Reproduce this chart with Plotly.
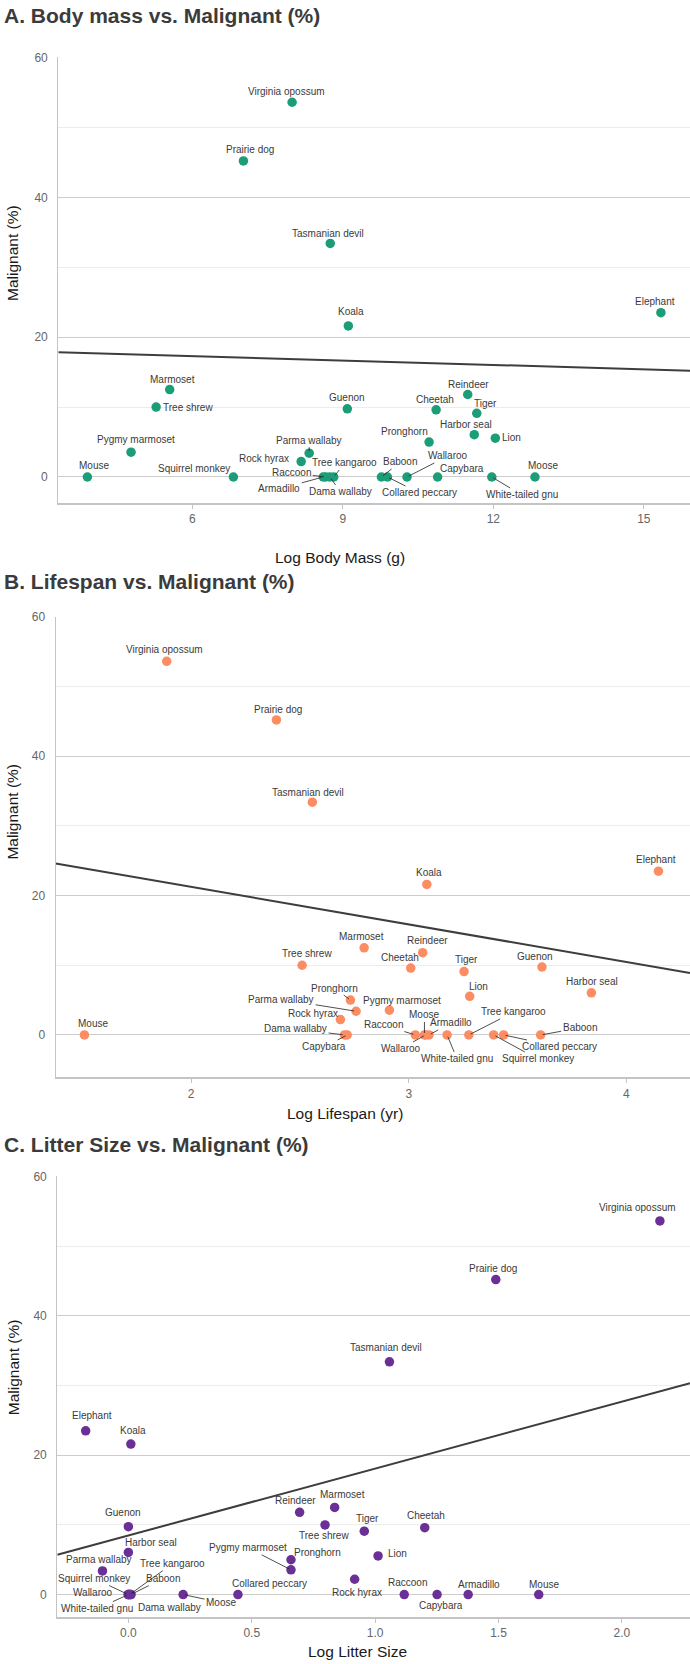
import plotly.graph_objects as go

# ---------------- data ----------------
species = ["Virginia opossum", "Prairie dog", "Tasmanian devil", "Koala", "Elephant",
           "Marmoset", "Reindeer", "Tree shrew", "Guenon", "Cheetah", "Tiger",
           "Harbor seal", "Lion", "Pronghorn", "Pygmy marmoset", "Parma wallaby",
           "Rock hyrax", "Mouse", "Squirrel monkey", "Raccoon", "Armadillo",
           "Dama wallaby", "Tree kangaroo", "Baboon", "Collared peccary", "Wallaroo",
           "Capybara", "White-tailed gnu", "Moose"]

malignant = [53.6, 45.2, 33.4, 21.6, 23.5,
             12.5, 11.8, 10.0, 9.75, 9.6, 9.1,
             6.05, 5.55, 5.0, 3.55, 3.4,
             2.2, 0, 0, 0, 0,
             0, 0, 0, 0, 0,
             0, 0, 0]

log_body_mass = [7.99, 7.02, 8.75, 9.11, 15.34,
                 5.55, 11.49, 5.28, 9.09, 10.86, 11.67,
                 11.62, 12.04, 10.72, 4.78, 8.33,
                 8.17, 3.91, 6.82, 8.66, 8.61,
                 8.74, 8.82, 9.77, 9.89, 10.28,
                 10.89, 11.97, 12.83]

log_lifespan = [1.888, 2.392, 2.557, 3.083, 4.147,
                2.795, 3.064, 2.510, 3.612, 3.009, 3.254,
                3.839, 3.280, 2.732, 2.911, 2.758,
                2.686, 1.510, 3.390, 3.030, 3.093,
                2.705, 3.276, 3.606, 3.436, 3.077,
                2.717, 3.176, 3.072]

log_litter = [2.154, 1.489, 1.058, 0.01, -0.173,
              0.836, 0.694, 0.797, 0.0, 1.201, 0.956,
              0.0, 1.012, 0.659, 0.659, -0.105,
              0.917, 1.663, 0.0, 1.118, 1.377,
              0.01, 0.005, 0.01, 0.444, 0.0,
              1.251, 0.0, 0.222]

# fitted lines: (intercept, slope)
fit_body_mass = (18.56, -0.211)
fit_lifespan = (32.03, -5.39)
fit_litter = (8.48, 9.6)

titles = ["A. Body mass vs. Malignant (%)", "B. Lifespan vs. Malignant (%)",
          "C. Litter Size vs. Malignant (%)"]
x_titles = ["Log Body Mass (g)", "Log Lifespan (yr)", "Log Litter Size"]
y_title = "Malignant (%)"
x_ticks = [[6, 9, 12, 15], [2, 3, 4], [0.0, 0.5, 1.0, 1.5, 2.0]]
x_ticktext = [["6", "9", "12", "15"], ["2", "3", "4"], ["0.0", "0.5", "1.0", "1.5", "2.0"]]
y_ticks = [0, 20, 40, 60]
y_minor = [10, 30, 50]

# ---------------- layout / style ----------------
W, H = 690, 1664
FONT = "Liberation Sans, Arial, Helvetica, sans-serif"
colors = ["#1b9e77", "#fc8d62", "#6a3096"]

# label placement (pixel offsets from point, leader line flag)
lab_A = {
    "Virginia opossum": (-6, -11, 0), "Prairie dog": (7, -11, 0), "Tasmanian devil": (-2, -10, 0),
    "Koala": (3, -14, 0), "Elephant": (-6, -11, 0), "Marmoset": (3, -10, 0),
    "Reindeer": (1, -10, 0), "Tree shrew": (32, 0, 0), "Guenon": (0, -11, 0),
    "Cheetah": (-1, -10, 0), "Tiger": (9, -10, 0), "Harbor seal": (-8, -10, 0),
    "Lion": (16, -1, 0), "Pronghorn": (-25, -11, 0), "Pygmy marmoset": (5, -13, 0),
    "Parma wallaby": (0, -13, 1), "Rock hyrax": (-37, -3, 0), "Mouse": (7, -11, 0),
    "Squirrel monkey": (-39, -8, 0), "Raccoon": (-34, -4, 1), "Armadillo": (-44, 12, 1),
    "Dama wallaby": (11, 15, 1), "Tree kangaroo": (11, -14, 1), "Baboon": (19, -15, 1),
    "Collared peccary": (32, 16, 1), "Wallaroo": (41, -21, 1), "Capybara": (24, -8, 0),
    "White-tailed gnu": (30, 18, 1), "Moose": (8, -11, 0)}
lab_B = {
    "Virginia opossum": (-2, -12, 0), "Prairie dog": (2, -10, 0), "Tasmanian devil": (-4, -10, 0),
    "Koala": (2, -12, 0), "Elephant": (-2, -12, 0), "Marmoset": (-3, -11, 0),
    "Reindeer": (5, -12, 0), "Tree shrew": (5, -12, 0), "Guenon": (-7, -10, 0),
    "Cheetah": (-11, -11, 0), "Tiger": (2, -12, 0), "Harbor seal": (1, -11, 0),
    "Lion": (9, -10, 0), "Pronghorn": (-16, -12, 1), "Pygmy marmoset": (13, -10, 0),
    "Parma wallaby": (-75, -12, 1), "Rock hyrax": (-27, -6, 0), "Mouse": (9, -11, 0),
    "Squirrel monkey": (44, 24, 1), "Raccoon": (-32, -10, 1), "Armadillo": (22, -12, 1),
    "Dama wallaby": (-49, -6, 1), "Tree kangaroo": (45, -23, 1), "Baboon": (39, -7, 1),
    "Collared peccary": (56, 12, 1), "Wallaroo": (-25, 14, 1), "Capybara": (-23, 12, 1),
    "White-tailed gnu": (10, 24, 1), "Moose": (0, -20, 1)}
lab_C = {
    "Virginia opossum": (-22, -13, 0), "Prairie dog": (-3, -11, 0), "Tasmanian devil": (-3, -14, 0),
    "Koala": (2, -14, 0), "Elephant": (6, -15, 0), "Marmoset": (8, -13, 0),
    "Reindeer": (-4, -12, 0), "Tree shrew": (-1, 11, 0), "Guenon": (-5, -14, 0),
    "Cheetah": (1, -12, 0), "Tiger": (3, -13, 0), "Harbor seal": (23, -10, 0),
    "Lion": (19, -2, 0), "Pronghorn": (27, -7, 0), "Pygmy marmoset": (-43, -22, 1),
    "Parma wallaby": (-3, -11, 0), "Rock hyrax": (2, 13, 0), "Mouse": (5, -10, 0),
    "Squirrel monkey": (-34, -16, 1), "Raccoon": (3, -12, 0), "Armadillo": (11, -10, 0),
    "Dama wallaby": (39, 13, 1), "Tree kangaroo": (43, -31, 1), "Baboon": (32, -16, 1),
    "Collared peccary": (32, -11, 0), "Wallaroo": (-35, -2, 0), "Capybara": (4, 11, 0),
    "White-tailed gnu": (-31, 14, 1), "Moose": (38, 8, 1)}

# panel geometry in pixels
panels = [
    dict(x=log_body_mass, fit=fit_body_mass, labels=lab_A,
         xpx=(58.3, 690), ypx=(50.7, 498.3), xr=[3.33, 15.92], yr=[-3.75, 60],
         title_y=9, xt=(340, 553), yt=(13, 247)),
    dict(x=log_lifespan, fit=fit_lifespan, labels=lab_B,
         xpx=(55.7, 690), ypx=(612.3, 1075), xr=[1.378, 4.292], yr=[-6.1, 60],
         title_y=577, xt=(345, 1111), yt=(13, 808)),
    dict(x=log_litter, fit=fit_litter, labels=lab_C,
         xpx=(57.3, 690), ypx=(1174.3, 1616.7), xr=[-0.288, 2.276], yr=[-3.2, 60],
         title_y=1142, xt=(357, 1651), yt=(13, 1366)),
]


def px(xp):
    return xp / W


def py(yp):
    return 1 - yp / H


fig = go.Figure()
annotations = []
layout_axes = {}

for i, p in enumerate(panels):
    n = "" if i == 0 else str(i + 1)
    xa, ya = "x" + n, "y" + n
    # regression line across the panel
    a, b = p["fit"]
    fig.add_trace(go.Scatter(x=p["xr"], y=[a + b * v for v in p["xr"]], xaxis=xa, yaxis=ya,
                             mode="lines", line=dict(color="#3d3d3d", width=2),
                             hoverinfo="skip", showlegend=False))
    fig.add_trace(go.Scatter(x=p["x"], y=malignant, xaxis=xa, yaxis=ya, mode="markers",
                             marker=dict(color=colors[i], size=9.5, line=dict(width=0)),
                             text=species, showlegend=False))
    for sp, xv, yv in zip(species, p["x"], malignant):
        dx, dy, line = p["labels"][sp]
        annotations.append(dict(
            x=xv, y=yv, xref=xa, yref=ya, text=sp, showarrow=True,
            ax=dx, ay=dy, arrowhead=0, arrowwidth=0.8, standoff=2,
            arrowcolor="#222222" if line else "rgba(0,0,0,0)",
            font=dict(family=FONT, size=10, color="#3a3a3a")))
    # titles
    annotations.append(dict(text="<b>%s</b>" % titles[i], xref="paper", yref="paper",
                            x=px(2), y=py(p["title_y"]), xanchor="left", yanchor="middle",
                            showarrow=False, font=dict(family=FONT, size=21, color="#3b3b3b")))
    annotations.append(dict(text=x_titles[i], xref="paper", yref="paper",
                            x=px(p["xt"][0]), y=py(p["xt"][1]), xanchor="center",
                            yanchor="middle", showarrow=False,
                            font=dict(family=FONT, size=15.5, color="#1a1a1a")))
    annotations.append(dict(text=y_title, xref="paper", yref="paper", textangle=-90,
                            x=px(p["yt"][0]), y=py(p["yt"][1]), xanchor="center",
                            yanchor="middle", showarrow=False,
                            font=dict(family=FONT, size=15.5, color="#1a1a1a")))

    layout_axes["xaxis" + n] = dict(
        domain=[px(p["xpx"][0]), px(p["xpx"][1])], range=p["xr"], anchor=ya,
        showgrid=False, zeroline=False, showline=True, linecolor="#c4c4c4", linewidth=1.5,
        ticks="outside", ticklen=4, tickcolor="#c4c4c4", tickwidth=1.2,
        tickvals=x_ticks[i], ticktext=x_ticktext[i],
        tickfont=dict(family=FONT, size=12, color="#666666"), fixedrange=True)
    layout_axes["yaxis" + n] = dict(
        domain=[py(p["ypx"][1]), py(p["ypx"][0])], range=p["yr"], anchor=xa,
        showgrid=True, gridcolor="#cdcdcd", gridwidth=1, zeroline=False,
        showline=True, linecolor="#c4c4c4", linewidth=1.2, ticks="",
        tickvals=y_ticks, ticklabelstandoff=7,
        minor=dict(tickvals=y_minor, showgrid=True, gridcolor="#ececec", gridwidth=1),
        tickfont=dict(family=FONT, size=12, color="#666666"), fixedrange=True)

fig.update_layout(width=W, height=H, margin=dict(l=0, r=0, t=0, b=0),
                  plot_bgcolor="white", paper_bgcolor="white",
                  annotations=annotations, showlegend=False, **layout_axes)

fig.write_html("out.html", config={"displayModeBar": False},
               post_script="document.body.style.margin='0px';"
                           "document.body.style.overflow='hidden';")
